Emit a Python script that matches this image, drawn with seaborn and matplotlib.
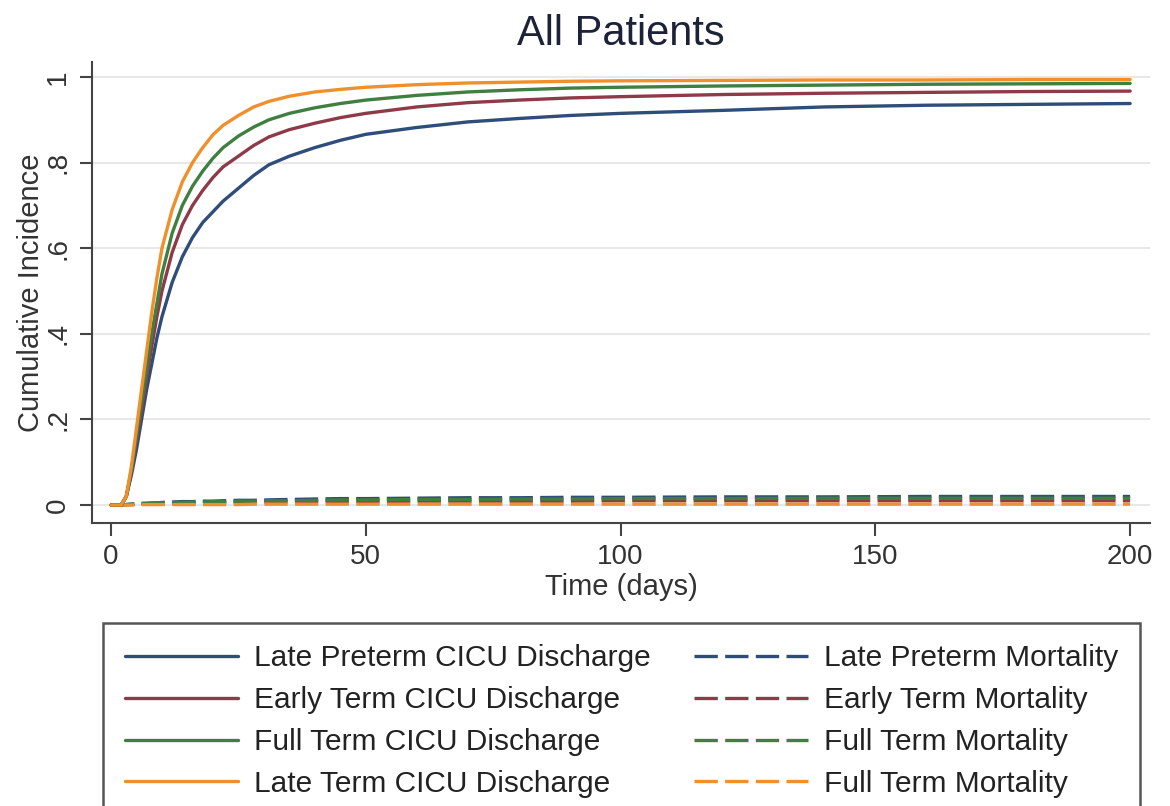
import numpy as np
import pandas as pd
import matplotlib
matplotlib.use("Agg")
import matplotlib.pyplot as plt
import seaborn as sns

# ---------------- data ----------------
time_days = [0, 2, 3, 4, 5, 6, 7, 8, 9, 10, 12, 14, 16, 18, 20, 22, 25, 28, 31, 35,
             40, 45, 50, 60, 70, 80, 90, 100, 120, 140, 160, 180, 200]

late_preterm_discharge = [0, 0, 0.02, 0.07, 0.13, 0.20, 0.27, 0.33, 0.39, 0.44, 0.52, 0.58,
                          0.625, 0.66, 0.685, 0.71, 0.74, 0.77, 0.795, 0.815, 0.835, 0.852,
                          0.866, 0.882, 0.895, 0.903, 0.91, 0.915, 0.922, 0.93, 0.934, 0.936, 0.938]
early_term_discharge = [0, 0, 0.02, 0.08, 0.15, 0.22, 0.30, 0.37, 0.44, 0.50, 0.59, 0.655,
                        0.70, 0.735, 0.765, 0.79, 0.815, 0.84, 0.86, 0.877, 0.892, 0.905,
                        0.915, 0.93, 0.94, 0.946, 0.951, 0.954, 0.959, 0.962, 0.964, 0.966, 0.967]
full_term_discharge = [0, 0, 0.02, 0.08, 0.16, 0.24, 0.32, 0.40, 0.47, 0.54, 0.635, 0.70,
                       0.745, 0.78, 0.81, 0.835, 0.862, 0.883, 0.9, 0.915, 0.928, 0.938,
                       0.946, 0.957, 0.965, 0.97, 0.974, 0.976, 0.979, 0.981, 0.983, 0.984, 0.985]
late_term_discharge = [0, 0, 0.02, 0.09, 0.18, 0.27, 0.36, 0.45, 0.53, 0.60, 0.69, 0.755,
                       0.80, 0.835, 0.865, 0.887, 0.91, 0.93, 0.943, 0.955, 0.965, 0.971,
                       0.976, 0.982, 0.986, 0.988, 0.99, 0.991, 0.992, 0.993, 0.993, 0.994, 0.994]

late_preterm_mortality = [0, 0, 0.001, 0.002, 0.003, 0.004, 0.004, 0.005, 0.005, 0.006, 0.007, 0.008,
                          0.008, 0.009, 0.009, 0.010, 0.011, 0.011, 0.012, 0.013, 0.014, 0.015,
                          0.015, 0.016, 0.017, 0.017, 0.018, 0.018, 0.019, 0.019, 0.020, 0.020, 0.020]
early_term_mortality = [0, 0, 0.001, 0.001, 0.002, 0.002, 0.003, 0.003, 0.003, 0.004, 0.004, 0.005,
                        0.005, 0.005, 0.006, 0.006, 0.006, 0.007, 0.007, 0.007, 0.008, 0.008,
                        0.008, 0.009, 0.009, 0.009, 0.009, 0.010, 0.010, 0.010, 0.010, 0.010, 0.010]
full_term_mortality = [0, 0, 0.001, 0.002, 0.003, 0.003, 0.004, 0.004, 0.005, 0.005, 0.006, 0.006,
                       0.007, 0.007, 0.008, 0.008, 0.009, 0.009, 0.010, 0.010, 0.011, 0.012,
                       0.012, 0.013, 0.013, 0.014, 0.014, 0.015, 0.015, 0.016, 0.016, 0.016, 0.016]
late_term_mortality = [0, 0, 0, 0, 0.001, 0.001, 0.001, 0.001, 0.001, 0.001, 0.001, 0.001,
                       0.001, 0.001, 0.001, 0.001, 0.001, 0.002, 0.002, 0.002, 0.002, 0.002,
                       0.002, 0.002, 0.002, 0.002, 0.002, 0.002, 0.002, 0.002, 0.002, 0.002, 0.002]

labels = ["Late Preterm CICU Discharge", "Early Term CICU Discharge",
          "Full Term CICU Discharge", "Late Term CICU Discharge",
          "Late Preterm Mortality", "Early Term Mortality",
          "Full Term Mortality", "Full Term Mortality"]
series = [late_preterm_discharge, early_term_discharge, full_term_discharge, late_term_discharge,
          late_preterm_mortality, early_term_mortality, full_term_mortality, late_term_mortality]

x_ticks = [0, 50, 100, 150, 200]
y_ticks = [0, 0.2, 0.4, 0.6, 0.8, 1.0]
y_tick_labels = ["0", ".2", ".4", ".6", ".8", "1"]

# ---------------- style ----------------
colors = ["#2e4d78", "#8e3a48", "#3f7f3f", "#f0902c"] * 2
styles = ["solid"] * 4 + [(0, (7, 2.2))] * 4

sns.set_style("white")
plt.rcParams["font.family"] = ["Liberation Sans", "DejaVu Sans"]

fig = plt.figure(figsize=(11.7, 8.06), dpi=100)
ax = fig.add_axes([92 / 1170, 1 - 523 / 806, (1150 - 92) / 1170, (523 - 62) / 806])

for ys in y_ticks:
    ax.axhline(ys, color="#e8e8e8", lw=1.5, zorder=0)

# draw mortality first so discharge curves sit on top
order = [4, 5, 6, 7, 0, 1, 2, 3]
lines = {}
for i in order:
    df = pd.DataFrame({"time": time_days, "ci": series[i]})
    sns.lineplot(data=df, x="time", y="ci", ax=ax, color=colors[i], linestyle=styles[i],
                 lw=2.4, label=labels[i], legend=False)
    lines[i] = ax.get_lines()[-1]

ax.set_xlim(-3.73, 203.9)
ax.set_ylim(-0.042, 1.035)
ax.set_xticks(x_ticks)
ax.set_xticklabels([str(v) for v in x_ticks])
ax.set_yticks(y_ticks)
ax.set_yticklabels(y_tick_labels, rotation=90, va="center")

for s in ["top", "right"]:
    ax.spines[s].set_visible(False)
for s in ["left", "bottom"]:
    ax.spines[s].set_color("#444444")
    ax.spines[s].set_linewidth(1.5)

ax.tick_params(axis="both", direction="out", length=9, width=1.5, color="#444444",
               labelsize=20, labelcolor="#333333", left=True, bottom=True)
ax.tick_params(axis="x", pad=6)
ax.tick_params(axis="y", pad=6)

ax.set_xlabel("Time (days)", fontsize=21, color="#333333", labelpad=2)
ax.set_ylabel("Cumulative Incidence", fontsize=21, color="#333333", labelpad=0)
ax.set_title("All Patients", fontsize=30, color="#1c2238", pad=12)

handles = [lines[i] for i in range(8)]
leg = fig.legend(handles, labels, loc="upper left", ncol=2, mode="expand",
                 bbox_to_anchor=(103 / 1170, 0, (1140 - 103) / 1170, 1 - 623 / 806),
                 borderaxespad=0, fontsize=21.5, handlelength=3.8, handletextpad=0.55,
                 labelspacing=0.46, borderpad=0.72, columnspacing=2.0,
                 frameon=True, fancybox=False, framealpha=1, labelcolor="#222222")
leg.get_frame().set_edgecolor("#555555")
leg.get_frame().set_linewidth(1.8)

fig.savefig("out.png", dpi=100)
